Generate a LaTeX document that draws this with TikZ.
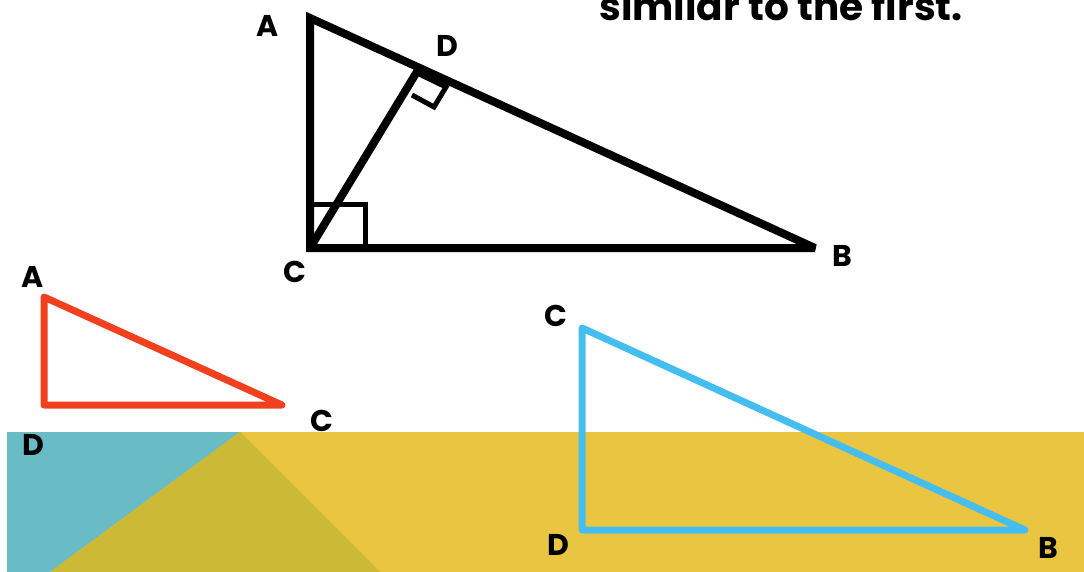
\documentclass[tikz,border=0pt]{standalone}
\usepackage{fontspec}
\setmainfont{Poppins}
\usepackage{xcolor}
\definecolor{myteal}{RGB}{105, 188, 197}
\definecolor{myolive}{RGB}{204, 186, 55}
\definecolor{myyellow}{RGB}{233, 197, 66}
\definecolor{myred}{RGB}{240, 64, 30}
\definecolor{myblue}{RGB}{69, 190, 239}
\tikzset{
  vlabel/.style={font=\fontsize{30}{34}\selectfont\bfseries, inner sep=0pt},
  blackside/.style={line width=8pt, black, line join=miter, miter limit=2},
  marker/.style={line width=5pt, black},
  colside/.style={line width=7pt, line join=round, line cap=round},
}

\begin{document}
\begin{tikzpicture}[x=1pt, y=-1pt]

  \useasboundingbox (0,0) rectangle (1084,572);

  % background band
  \fill[myyellow] (7,432) rectangle (1084,572);
  \fill[myteal] (7,432) -- (240,432) -- (50,572) -- (7,572) -- cycle;
  \fill[myolive] (240,432) -- (380,572) -- (50,572) -- cycle;

  \node[font=\fontsize{39}{42}\selectfont\bfseries, anchor=base, inner sep=0pt] (title) at (781,21) {similar to the first.};

  % big triangle
  \coordinate (A) at (310,18);
  \coordinate (C) at (310,248);
  \coordinate (B) at (815,248);
  \coordinate (D) at (418,70);
  \draw[blackside] (A) -- (B) -- (C) -- cycle;
  \draw[blackside] (C) -- (D);
  \draw[marker] (C) ++(0,-43) -- ++(55,0) -- ++(0,43);
  \draw[marker] (417,73) -- (446,87) -- (434,107) -- (412,95);

  \node[vlabel] (lA) at (268,26) {A};
  \node[vlabel] (lD) at (447,46) {D};
  \node[vlabel] (lC) at (295,272) {C};
  \node[vlabel] (lB) at (842,256) {B};

  % red triangle
  \coordinate (rA) at (44,297);
  \coordinate (rD) at (44,405);
  \coordinate (rC) at (282,405);
  \draw[colside, myred] (rA) -- (rC) -- (rD) -- cycle;
  \node[vlabel] (rlA) at (33,277) {A};
  \node[vlabel] (rlD) at (33,445) {D};
  \node[vlabel] (rlC) at (322,421) {C};

  % blue triangle
  \coordinate (bC) at (582,328);
  \coordinate (bD) at (582,530);
  \coordinate (bB) at (1025,530);
  \draw[colside, myblue] (bC) -- (bB) -- (bD) -- cycle;
  \node[vlabel] (blC) at (556,316) {C};
  \node[vlabel] (blD) at (558,545) {D};
  \node[vlabel] (blB) at (1048,548) {B};

\end{tikzpicture}
\end{document}
